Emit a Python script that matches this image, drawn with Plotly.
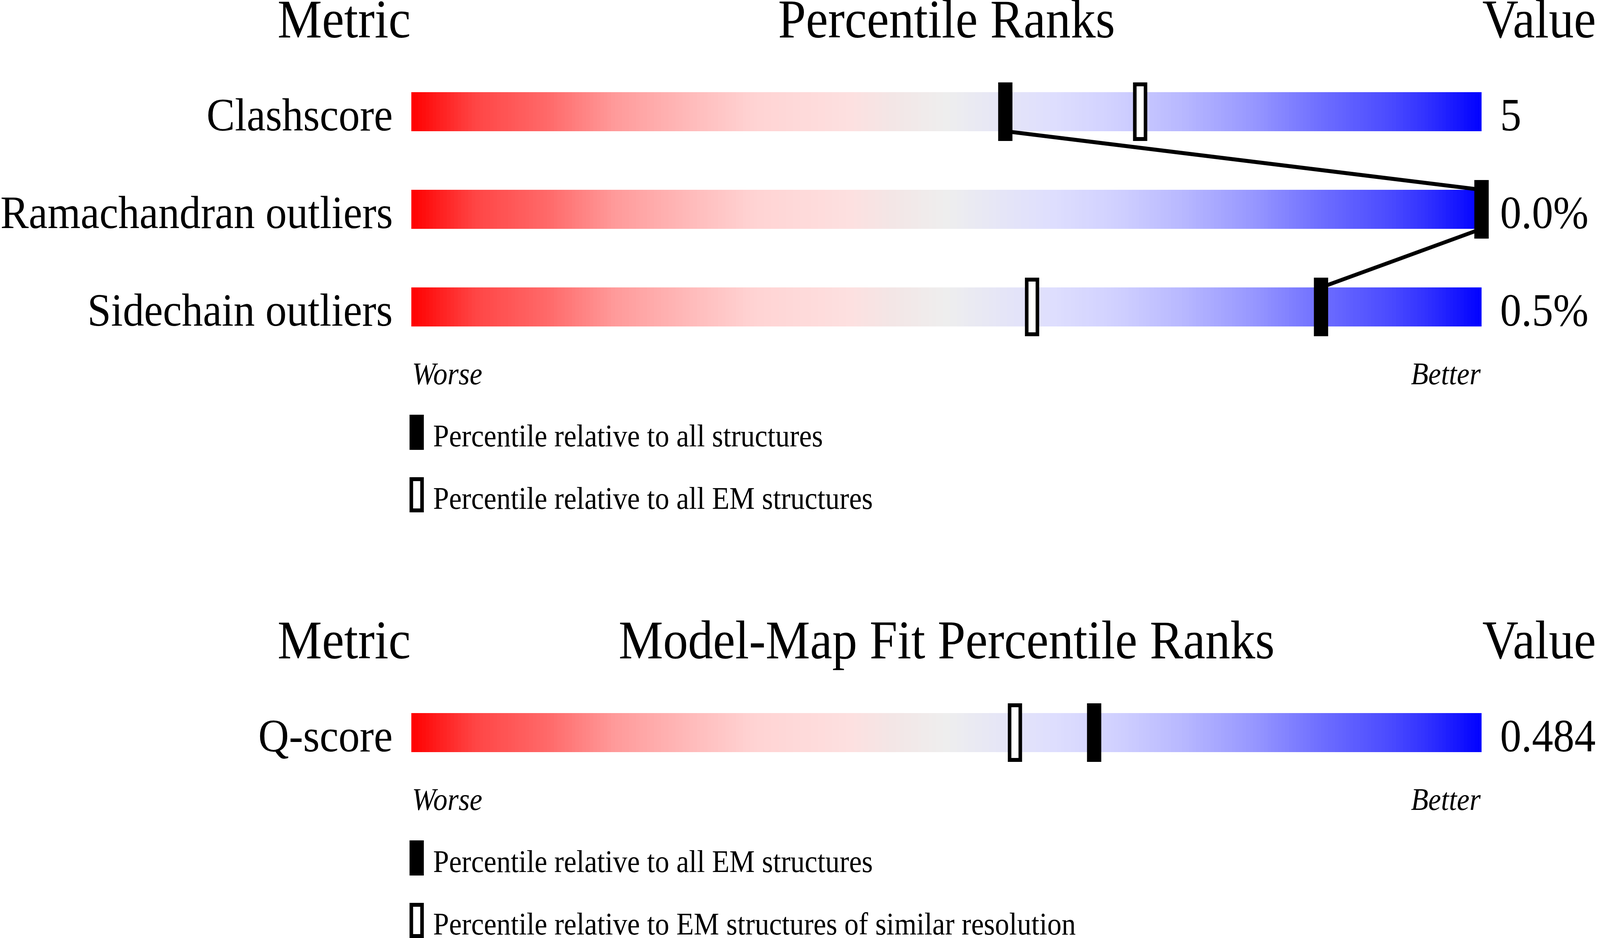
import plotly.graph_objects as go

# panel 1: geometry quality
metrics_geo = ["Clashscore", "Ramachandran outliers", "Sidechain outliers"]
values_geo = ["5", "0.0%", "0.5%"]
pct_all = [55.5, 100, 85.0]       # relative to all structures (filled)
pct_all_em = [68.1, 100, 58.0]    # relative to all EM structures (open)

# panel 2: model-map fit
metrics_fit = ["Q-score"]
values_fit = ["0.484"]
pct_fit_em = [63.8]               # relative to all EM structures (filled)
pct_fit_res = [56.4]              # relative to EM structures of similar resolution (open)

titles = ["Percentile Ranks", "Model-Map Fit Percentile Ranks"]
legend_txt = [
    ["Percentile relative to all structures", "Percentile relative to all EM structures"],
    ["Percentile relative to all EM structures", "Percentile relative to EM structures of similar resolution"],
]

# gradient of the slider (red = worse, blue = better)
grad = [
    [0.0, "rgb(255,0,0)"], [0.06, "rgb(255,69,69)"], [0.13, "rgb(255,107,107)"],
    [0.19, "rgb(255,154,154)"], [0.255, "rgb(255,184,184)"], [0.32, "rgb(255,211,211)"],
    [0.41, "rgb(253,224,224)"], [0.45, "rgb(243,230,230)"], [0.5, "rgb(238,238,238)"],
    [0.56, "rgb(228,228,248)"], [0.6, "rgb(222,222,254)"], [0.66, "rgb(208,208,255)"],
    [0.72, "rgb(184,184,255)"], [0.79, "rgb(149,149,255)"], [0.85, "rgb(110,110,255)"],
    [0.915, "rgb(74,74,255)"], [0.95, "rgb(48,48,255)"], [1.0, "rgb(0,0,255)"],
]

# page geometry (pixels)
W, H = 4485, 2402
BAR_LEFT = 1153
PX_PCT = 30.0          # 3000 px for 0..100
ROW = 250.0            # px between rows
ROW0 = [286, 1876]     # centre of first row in each panel
BAR_H = 100 / ROW
MARK_H = 150 / ROW
MARK_W = 40 / PX_PCT
OPEN_LW = 10
FONT = "Liberation Serif"
LBL = 119
HDR = 140
SML = 80


def px(x):
    return x / W


def py(y):
    return 1 - y / H


def mid(baseline, size):
    # annotation centre for a given text baseline
    return py(baseline - 0.3375 * size)


fig = go.Figure()
NB = 300
edges = [100 * i / NB for i in range(NB + 1)]
centres = [100 * (i + 0.5) / NB for i in range(NB)]

panels = [
    (metrics_geo, values_geo, pct_all, pct_all_em, "y"),
    (metrics_fit, values_fit, pct_fit_em, pct_fit_res, "y2"),
]

annotations = []
shapes = []
for k, (names, vals, filled, opened, yax) in enumerate(panels):
    rows = list(range(len(names)))
    for r in rows:
        fig.add_trace(go.Heatmap(
            x=edges, y=[r - BAR_H / 2, r + BAR_H / 2], z=[centres],
            colorscale=grad, zmin=0, zmax=100, showscale=False,
            hoverinfo="skip", yaxis=yax,
        ))
    # connector between filled markers
    if len(rows) > 1:
        lx, ly = [], []
        for r in rows:
            if r > 0:
                lx.append(filled[r]); ly.append(r - BAR_H / 2)
            if r < len(rows) - 1:
                lx.append(filled[r]); ly.append(r + BAR_H / 2)
        fig.add_trace(go.Scatter(x=lx, y=ly, mode="lines", yaxis=yax,
                                 line=dict(color="black", width=10),
                                 hoverinfo="skip", showlegend=False))
    # open markers
    fig.add_trace(go.Bar(
        x=opened, y=[MARK_H - OPEN_LW / ROW] * len(rows),
        base=[r - (MARK_H - OPEN_LW / ROW) / 2 for r in rows],
        width=[MARK_W - OPEN_LW / PX_PCT] * len(rows), yaxis=yax,
        marker=dict(color="white", line=dict(color="black", width=OPEN_LW)),
        hoverinfo="x", showlegend=False,
    ))
    # filled markers
    fig.add_trace(go.Bar(
        x=filled, y=[MARK_H] * len(rows), base=[r - MARK_H / 2 for r in rows],
        width=[MARK_W] * len(rows), yaxis=yax,
        marker=dict(color="black", line=dict(width=0)),
        hoverinfo="x", showlegend=False,
    ))

    # row labels and values
    for r, (n, v) in enumerate(zip(names, vals)):
        annotations.append(dict(x=0, y=r, xref="x", yref=yax, text=n, showarrow=False,
                                xanchor="right", yanchor="middle", xshift=-50, yshift=-8,
                                font=dict(family=FONT, size=LBL, color="black")))
        annotations.append(dict(x=100, y=r, xref="x", yref=yax, text=v, showarrow=False,
                                xanchor="left", yanchor="middle", xshift=50, yshift=-8,
                                font=dict(family=FONT, size=LBL, color="black")))

    top = ROW0[k]
    last = top + ROW * (len(rows) - 1)
    hb = top - 190
    bar_mid = BAR_LEFT + 50 * PX_PCT
    bar_right = BAR_LEFT + 100 * PX_PCT
    for txt, xx, anc in [("Metric", BAR_LEFT, "right"), (titles[k], bar_mid, "center"),
                         ("Value", bar_right, "left")]:
        annotations.append(dict(x=px(xx), y=mid(hb, HDR), xref="paper", yref="paper",
                                text=txt, showarrow=False, xanchor=anc, yanchor="middle",
                                font=dict(family=FONT, size=HDR, color="black")))
    wb = last + 198
    for txt, xx, anc in [("Worse", BAR_LEFT, "left"), ("Better", bar_right, "right")]:
        annotations.append(dict(x=px(xx), y=mid(wb, SML), xref="paper", yref="paper",
                                text=txt, showarrow=False, xanchor=anc, yanchor="middle",
                                font=dict(family=FONT, size=SML, color="black", style="italic")))
    # legend keys
    for j, txt in enumerate(legend_txt[k]):
        ktop = last + 276 + 160 * j
        if j == 0:
            shapes.append(dict(type="rect", xref="paper", yref="paper",
                               x0=px(1148), x1=px(1188), y0=py(ktop), y1=py(ktop + 90),
                               fillcolor="black", line=dict(width=0)))
        else:
            shapes.append(dict(type="rect", xref="paper", yref="paper",
                               x0=px(1153), x1=px(1183), y0=py(ktop + 5), y1=py(ktop + 85),
                               fillcolor="white", line=dict(color="black", width=OPEN_LW)))
        annotations.append(dict(x=px(1212), y=mid(ktop + 81, SML), xref="paper", yref="paper",
                                text=txt, showarrow=False, xanchor="left", yanchor="middle",
                                font=dict(family=FONT, size=SML, color="black")))

fig.update_layout(
    width=W, height=H, margin=dict(l=0, r=0, t=0, b=0),
    paper_bgcolor="white", plot_bgcolor="white",
    barmode="overlay", showlegend=False,
    xaxis=dict(range=[-BAR_LEFT / PX_PCT, (W - BAR_LEFT) / PX_PCT], visible=False, fixedrange=True),
    yaxis=dict(range=[(H - ROW0[0]) / ROW, -ROW0[0] / ROW], visible=False, fixedrange=True),
    yaxis2=dict(range=[(H - ROW0[1]) / ROW, -ROW0[1] / ROW], visible=False,
                overlaying="y", fixedrange=True),
    annotations=annotations, shapes=shapes,
)

# fit the fixed-size figure exactly into the viewport the page gets
fit_js = """
var gd = document.getElementById('{plot_id}');
var de = document.documentElement;
de.style.margin = '0'; de.style.overflow = 'hidden';
document.body.style.margin = '0'; document.body.style.overflow = 'hidden';
var sx = window.innerWidth / %d, sy = window.innerHeight / %d;
var wrap = gd.parentElement;
wrap.style.width = window.innerWidth + 'px';
wrap.style.height = window.innerHeight + 'px';
wrap.style.overflow = 'hidden';
gd.style.transformOrigin = '0 0';
gd.style.transform = 'scale(' + sx + ',' + sy + ')';
""" % (W, H)

fig.write_html("out.html", post_script=fit_js, config={"displayModeBar": False})
